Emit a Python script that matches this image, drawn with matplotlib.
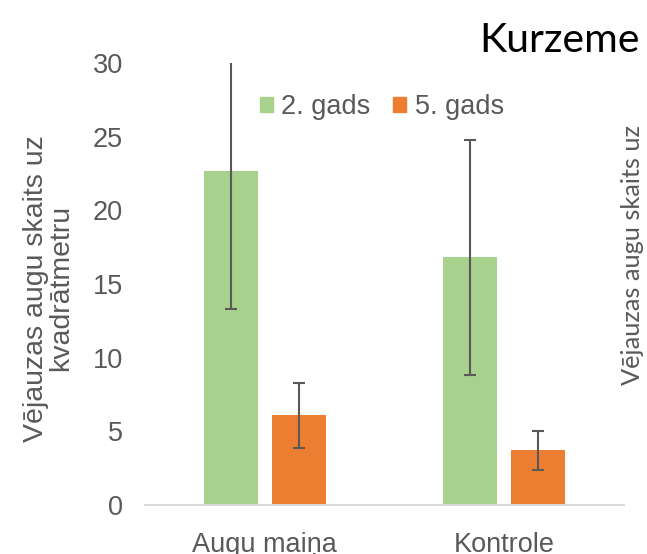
import matplotlib
matplotlib.use("Agg")
import matplotlib.pyplot as plt
from matplotlib.patches import Patch
import numpy as np

# Data
categories = ["Augu maiņa", "Kontrole"]
series_names = ["2. gads", "5. gads"]
year2_values = [22.7, 16.8]
year2_errors = [9.4, 8.0]
year5_values = [6.1, 3.7]
year5_errors = [2.2, 1.3]

GREEN = "#A9D18E"
ORANGE = "#ED7D31"
TEXT_GRAY = "#595959"
ERR_GRAY = "#595959"

plt.rcParams["font.family"] = ["Liberation Sans", "DejaVu Sans"]

fig = plt.figure(figsize=(6.47, 5.54), dpi=100)
ax = fig.add_axes([145 / 647, 49 / 554, 479 / 647, 442 / 554])

x = np.arange(len(categories))
width = 0.225
offset = 0.1415

err_kw = dict(ecolor=ERR_GRAY, elinewidth=1.5, capsize=4.3, capthick=1.5)
ax.bar(x - offset, year2_values, width, color=GREEN, yerr=year2_errors,
       error_kw=err_kw, label=series_names[0])
ax.bar(x + offset, year5_values, width, color=ORANGE, yerr=year5_errors,
       error_kw=err_kw, label=series_names[1])

ax.set_xlim(-0.5, 1.5)
ax.set_ylim(0, 30)
ax.set_yticks([0, 5, 10, 15, 20, 25, 30])
ax.set_xticks(x)
ax.set_xticklabels(categories)

for side in ["top", "right", "left"]:
    ax.spines[side].set_visible(False)
ax.spines["bottom"].set_color("#D9D9D9")
ax.spines["bottom"].set_linewidth(1.4)
ax.tick_params(axis="both", length=0, colors=TEXT_GRAY, labelsize=19.5, pad=16)
ax.tick_params(axis="x", pad=19.5)

ax.set_ylabel("Vējauzas augu skaits uz\nkvadrātmetru", fontsize=20.5,
              color=TEXT_GRAY, linespacing=0.95)
ax.yaxis.set_label_coords(-0.148, 0.49)

handles = [Patch(color=GREEN), Patch(color=ORANGE)]
fig.legend(handles, series_names, loc="center left",
           bbox_to_anchor=(260 / 647, 1 - 107 / 554), ncol=2, frameon=False,
           fontsize=19.5, handlelength=0.48, handleheight=0.48,
           handletextpad=0.3, columnspacing=0.85, borderpad=0, borderaxespad=0,
           labelcolor=TEXT_GRAY)

fig.text(640 / 647, 1 - 52 / 554, "Kurzeme", fontsize=29.5, family="Lato",
         ha="right", va="baseline", color="black")
fig.text(632 / 647, 1 - 255 / 554, "Vējauzas augu skaits uz", fontsize=18.3,
         family="Lato", rotation=90, ha="center", va="center", color=TEXT_GRAY)

fig.savefig("out.png", dpi=100)
